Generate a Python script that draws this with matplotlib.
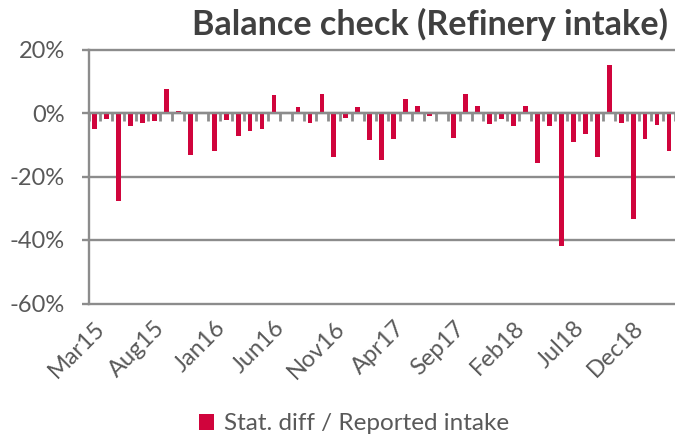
import numpy as np
import pandas as pd
import matplotlib
matplotlib.use("Agg")
import matplotlib.pyplot as plt
from matplotlib.ticker import FuncFormatter

plt.rcParams['font.family'] = ['Lato', 'DejaVu Sans']

# ---- data ----
months = [d.strftime('%b%y') for d in pd.date_range('2015-03-01', '2019-03-01', freq='MS')]
values = [-5.0, -1.8, -27.8, -4.2, -3.1, -2.6, 7.5, 0.6, -13.2, 0.0,
          -11.9, -2.2, -7.2, -5.8, -5.1, 5.6, 0.0, 1.8, -3.1, 5.9,
          -14.0, -1.5, 1.8, -8.6, -14.7, -8.3, 4.5, 2.2, -0.8, 0.0,
          -7.9, 5.9, 2.2, -3.5, -1.8, -4.2, 2.2, -15.7, -4.2, -41.9,
          -9.1, -6.7, -14.0, 15.1, -3.1, -33.5, -8.3, -3.8, -11.9]
label_every = 5
series_name = 'Stat. diff / Reported intake'
title = 'Balance check (Refinery intake)'
y_ticks = [0.2, 0.0, -0.2, -0.4, -0.6]

BAR = '#D0043C'
GRID = '#8C8C8C'
TXT = '#595959'

fig = plt.figure(figsize=(6.75, 4.38), dpi=100)
ax = fig.add_axes([88.5 / 675, 1 - 303.5 / 438, (675 - 88.5) / 675, (303.5 - 49.5) / 438])

x = np.arange(len(months))
ax.bar(x, np.array(values) / 100.0, width=0.4, color=BAR, zorder=3, label=series_name)

ax.set_xlim(-0.5, len(months) - 0.5)
ax.set_ylim(-0.6, 0.2)
ax.set_yticks(y_ticks)
ax.yaxis.set_major_formatter(FuncFormatter(lambda v, p: f'{v:.0%}'.replace('\u2212', '-')))
ax.grid(axis='y', color=GRID, linewidth=1.7, zorder=1)
for gl in ax.get_ygridlines():
    gl.set_clip_on(False)

# spines
for s in ['top', 'right']:
    ax.spines[s].set_visible(False)
ax.spines['left'].set_color(GRID)
ax.spines['left'].set_linewidth(1.7)
ax.spines['bottom'].set_position(('data', 0))
ax.spines['bottom'].set_color(GRID)
ax.spines['bottom'].set_linewidth(1.7)
ax.spines['bottom'].set_zorder(4)

# category boundary ticks on zero line
ax.set_xticks(np.arange(len(months) + 1) - 0.5)
ax.tick_params(axis='x', which='major', direction='out', length=5.5, width=2.0,
               color=GRID, labelbottom=False)
ax.tick_params(axis='y', direction='out', length=5, width=1.7, color=GRID,
               labelsize=17, labelcolor=TXT, pad=12)

# category labels at bottom
sec = ax.secondary_xaxis('bottom')
sec.set_xticks(x[::label_every])
sec.set_xticklabels(months[::label_every], rotation=45, ha='right', rotation_mode='anchor')
sec.tick_params(length=0, labelsize=17, labelcolor=TXT, pad=10)
sec.spines['bottom'].set_visible(False)

fig.text(668 / 675, 1 - 24 / 438, title, ha='right', va='center',
         fontsize=24.6, fontweight='bold', color='#404040')

h, l = ax.get_legend_handles_labels()
fig.legend(h, l, loc='center', bbox_to_anchor=(354 / 675, 1 - 424 / 438), frameon=False,
           fontsize=17.5, labelcolor=TXT, handlelength=0.65, handleheight=0.65,
           handletextpad=0.4)

fig.savefig('out.png', dpi=100)
